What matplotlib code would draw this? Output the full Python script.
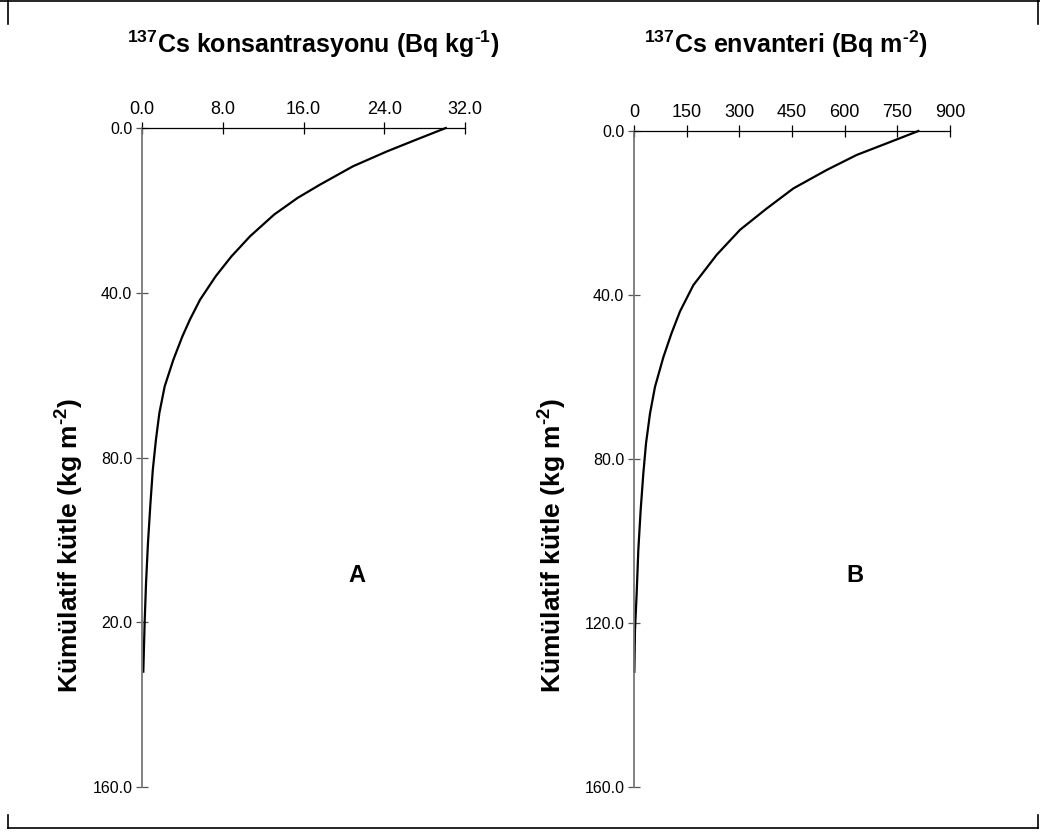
import numpy as np
import matplotlib
matplotlib.use('Agg')
import matplotlib.pyplot as plt
from matplotlib.lines import Line2D

plt.rcParams['font.family'] = 'Liberation Sans'
plt.rcParams['mathtext.fontset'] = 'custom'
plt.rcParams['mathtext.rm'] = 'Liberation Sans'
plt.rcParams['mathtext.bf'] = 'Liberation Sans:bold'

# cumulative mass (kg m-2) vs 137Cs concentration (Bq kg-1)
depth_a = [0, 2.8, 5.7, 9.3, 13.8, 17, 21, 26.3, 31.2, 36, 41.7, 46.5, 50.6,
           56.3, 62.7, 69.2, 75.7, 83, 91, 100.8, 110.5, 120.2, 132]
conc_a = [30.1, 27.2, 24.25, 20.9, 17.6, 15.4, 13.1, 10.7, 8.85, 7.3, 5.75, 4.75, 4.0,
          3.1, 2.25, 1.72, 1.38, 1.07, 0.84, 0.59, 0.40, 0.26, 0.13]

# cumulative mass (kg m-2) vs 137Cs inventory (Bq m-2)
depth_b = [0, 3, 5.85, 9.5, 14, 18.9, 24.1, 30.2, 37.6, 44, 49.3, 55.2,
           62.4, 68.9, 76.2, 83.5, 92.4, 102.2, 112.8, 121.7, 131.9]
inv_b = [810, 720, 634, 549, 454, 378, 302, 235.5, 169, 131, 107, 83.5,
         59.8, 45.6, 34.2, 26.6, 19, 12.3, 7.6, 2.8, 1]

yticks = [0, 40, 80, 120, 160]
ylabels_a = ['0.0', '40.0', '80.0', '20.0', '160.0']
ylabels_b = ['0.0', '40.0', '80.0', '120.0', '160.0']
xticks_a = [0, 8, 16, 24, 32]
xlabels_a = ['0.0', '8.0', '16.0', '24.0', '32.0']
xticks_b = [0, 150, 300, 450, 600, 750, 900]

W, H = 1040, 832
fig = plt.figure(figsize=(W / 100, H / 100), dpi=100)


def px_axes(x0, x1, y0, y1):
    return fig.add_axes([x0 / W, 1 - y1 / H, (x1 - x0) / W, (y1 - y0) / H])


def style(ax, xt, xl, yl, xmax):
    ax.set_xlim(0, xmax)
    ax.set_ylim(160, 0)
    ax.xaxis.tick_top()
    ax.set_xticks(xt)
    ax.set_xticklabels(xl)
    ax.set_yticks(yticks)
    ax.set_yticklabels(yl)
    for s in ['right', 'bottom']:
        ax.spines[s].set_visible(False)
    ax.spines['top'].set_color('black')
    ax.spines['top'].set_linewidth(0.9)
    ax.spines['left'].set_color('#777777')
    ax.spines['left'].set_linewidth(1.3)
    ax.tick_params(axis='x', direction='inout', length=8, width=0.9, pad=3.5,
                   labelsize=13, colors='black')
    ax.tick_params(axis='y', direction='inout', length=8, width=0.9, pad=3,
                   labelsize=11.5, color='#555555', labelcolor='black')
    ax.set_facecolor('none')


ax1 = px_axes(142, 465, 128, 787)
ax1.plot(conc_a, depth_a, color='black', lw=1.6, clip_on=False)
style(ax1, xticks_a, xlabels_a, ylabels_a, 32)

ax2 = px_axes(634, 950, 131, 787)
ax2.plot(inv_b, depth_b, color='black', lw=1.6, clip_on=False)
style(ax2, xticks_b, [str(v) for v in xticks_b], ylabels_b, 900)

# titles and axis labels
hy = '\u2010'
fig.text(313 / W, 1 - 53 / H, r'$^{\mathbf{137}}$Cs konsantrasyonu (Bq kg$^{\mathbf{' + hy + '1}}$)',
         ha='center', va='baseline', fontsize=18, fontweight='bold')
fig.text(786 / W, 1 - 53 / H, r'$^{\mathbf{137}}$Cs envanteri (Bq m$^{\mathbf{' + hy + '2}}$)',
         ha='center', va='baseline', fontsize=18, fontweight='bold')
for xp in [69, 552]:
    fig.text(xp / W, 1 - 545 / H, r'Kümülatif kütle (kg m$^{\mathbf{' + hy + '2}}$)',
             ha='center', va='center', rotation=90, fontsize=19, fontweight='bold')
fig.text(357 / W, 1 - 576 / H, 'A', ha='center', va='center', fontsize=17, fontweight='bold')
fig.text(855 / W, 1 - 576 / H, 'B', ha='center', va='center', fontsize=17, fontweight='bold')

# outer frame
frame = [
    ([0, W], [1, 1]),
    ([8, 8], [0, 24]),
    ([1038, 1038], [0, 24]),
    ([8, 1038], [828, 828]),
    ([8, 8], [815, 828]),
    ([1038, 1038], [815, 828]),
]
for xs, ys in frame:
    fig.add_artist(Line2D([x / W for x in xs], [1 - y / H for y in ys],
                          color='black', lw=1.2, transform=fig.transFigure))

fig.savefig('out.png', dpi=100)
